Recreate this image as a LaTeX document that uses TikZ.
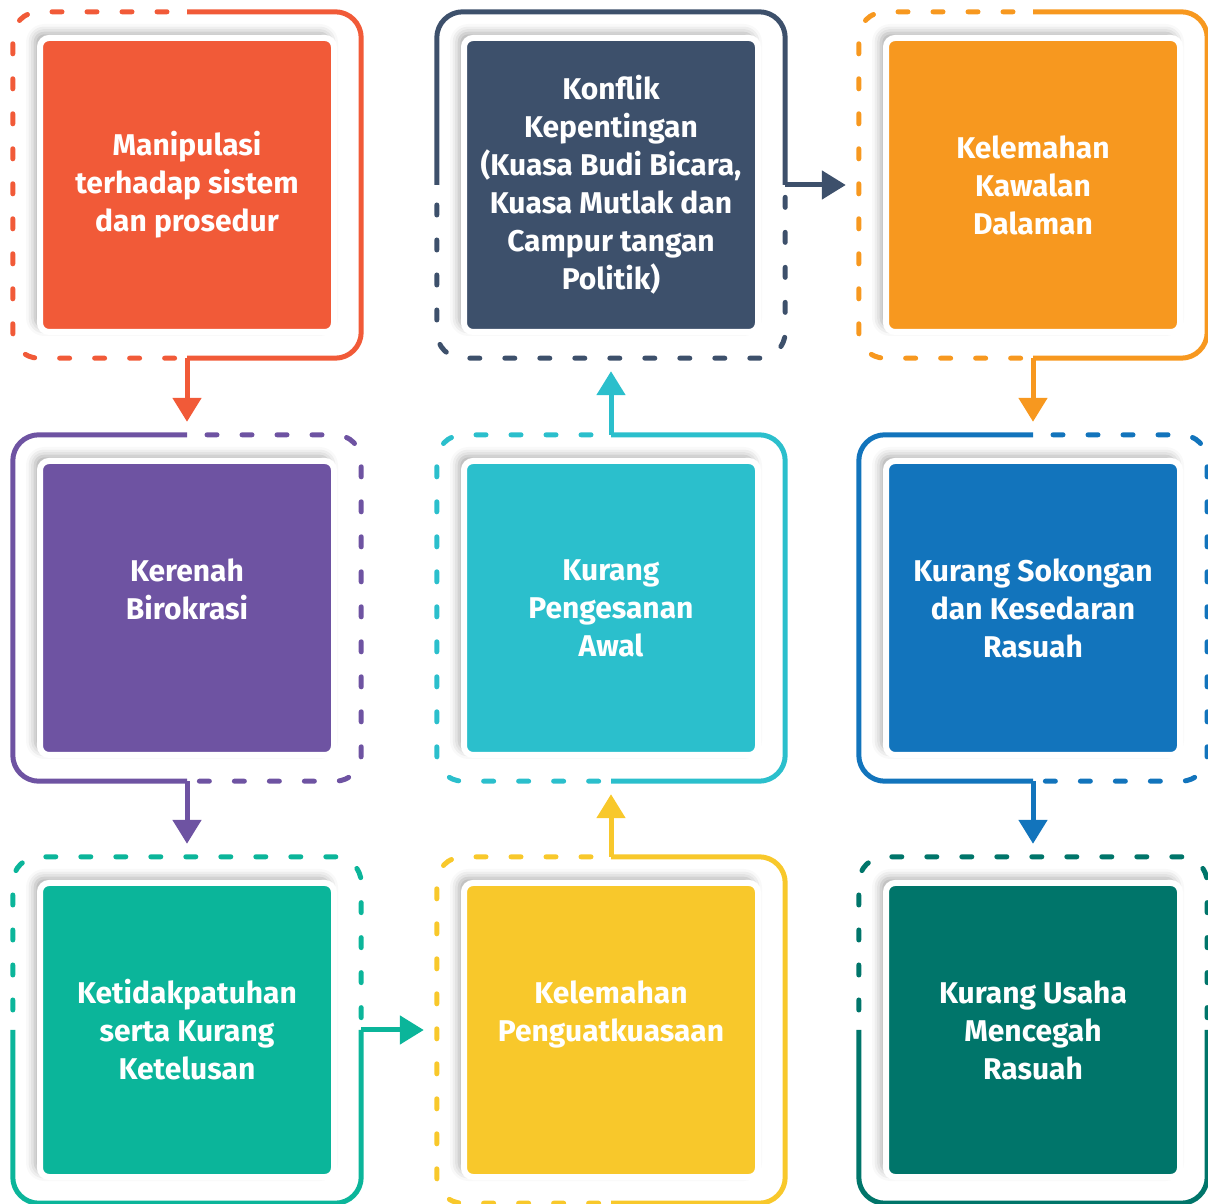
\documentclass[tikz,border=0pt]{standalone}
\usepackage{fontspec}
\setmainfont{Fira Sans}
\usetikzlibrary{arrows.meta,shadows.blur}

\definecolor{cred}{HTML}{F15A38}
\definecolor{cnavy}{HTML}{3D506B}
\definecolor{corange}{HTML}{F7981F}
\definecolor{cpurple}{HTML}{6E53A2}
\definecolor{ccyan}{HTML}{2BBFCC}
\definecolor{cblue}{HTML}{1274BC}
\definecolor{cteal}{HTML}{0BB59A}
\definecolor{cyellow}{HTML}{F8C82B}
\definecolor{cgreen}{HTML}{00756A}

\tikzset{
  frame/.style={minimum width=348pt, minimum height=346pt, inner sep=0pt},
  box/.style={fill=#1, draw=white, line width=6pt, rounded corners=9pt,
    minimum size=294pt, inner sep=0pt, text=white, align=center,
    font=\bfseries\fontsize{30}{38}\selectfont,
    blur shadow={shadow xshift=-5pt, shadow yshift=5pt, shadow blur radius=9pt, shadow opacity=35}},
  half/.style={draw=#1, line width=5pt, rounded corners=26pt},
  halfdash/.style={draw=#1, line width=5pt, rounded corners=26pt, line cap=round,
    dash pattern=on 10pt off 25pt, dash phase=15pt},
  arr/.style={draw=#1, line width=5pt, -{Triangle[width=28pt,length=24pt]}, shorten >=13pt}
}

\begin{document}
\begin{tikzpicture}[x=1pt,y=1pt]
\useasboundingbox (0,0) rectangle (1208,1203);

% frames
\node[frame] (f1) at (187,1018) {};
\node[frame] (f2) at (187,595) {};
\node[frame] (f3) at (187,173) {};
\node[frame] (f4) at (611,173) {};
\node[frame] (f5) at (611,595) {};
\node[frame] (f6) at (611,1018) {};
\node[frame] (f7) at (1033,1018) {};
\node[frame] (f8) at (1033,595) {};
\node[frame] (f9) at (1033,173) {};

% left half dashed, right half solid
\foreach \f/\c in {f1/cred, f4/cyellow, f5/ccyan, f7/corange} {
  \path[half=\c] (\f.north) -| (\f.south east) -- (\f.south);
  \path[halfdash=\c] (\f.north) -| (\f.south west) -- (\f.south);
}
% left half solid, right half dashed
\foreach \f/\c in {f2/cpurple, f8/cblue} {
  \path[half=\c] (\f.north) -| (\f.south west) -- (\f.south);
  \path[halfdash=\c] (\f.north) -| (\f.south east) -- (\f.south);
}
% top half solid, bottom half dashed
\path[half=cnavy] (f6.west) |- (f6.north east) -- (f6.east);
\path[halfdash=cnavy] (f6.west) |- (f6.south east) -- (f6.east);
% top half dashed, bottom half solid
\foreach \f/\c in {f3/cteal, f9/cgreen} {
  \path[half=\c] (\f.west) |- (\f.south east) -- (\f.east);
  \path[halfdash=\c] (\f.west) |- (\f.north east) -- (\f.east);
}

% arrows
\path[arr=cred] (f1.south) -- (f2.north);
\path[arr=cpurple] (f2.south) -- (f3.north);
\path[arr=cteal] (f3.east) -- (f4.west);
\path[arr=cyellow] (f4.north) -- (f5.south);
\path[arr=ccyan] (f5.north) -- (f6.south);
\path[arr=cnavy] (f6.east) -- (f7.west);
\path[arr=corange] (f7.south) -- (f8.north);
\path[arr=cblue] (f8.south) -- (f9.north);

% boxes
\node[box=cred] (1) at (f1) {Manipulasi\\terhadap sistem\\dan prosedur};
\node[box=cpurple] (2) at (f2) {Kerenah\\Birokrasi\\\mbox{}};
\node[box=cteal] (3) at (f3) {Ketidakpatuhan\\serta Kurang\\Ketelusan};
\node[box=cyellow] (4) at (f4) {Kelemahan\\Penguatkuasaan\\\mbox{}};
\node[box=ccyan] (5) at (f5) {Kurang\\Pengesanan\\Awal};
\node[box=cnavy] (6) at (f6) {Konflik\\Kepentingan\\(Kuasa Budi Bicara,\\Kuasa Mutlak dan\\Campur tangan\\Politik)};
\node[box=corange] (7) at (f7) {Kelemahan\\Kawalan\\Dalaman};
\node[box=cblue] (8) at (f8) {Kurang Sokongan\\dan Kesedaran\\Rasuah};
\node[box=cgreen] (9) at (f9) {Kurang Usaha\\Mencegah\\Rasuah};
\end{tikzpicture}
\end{document}
